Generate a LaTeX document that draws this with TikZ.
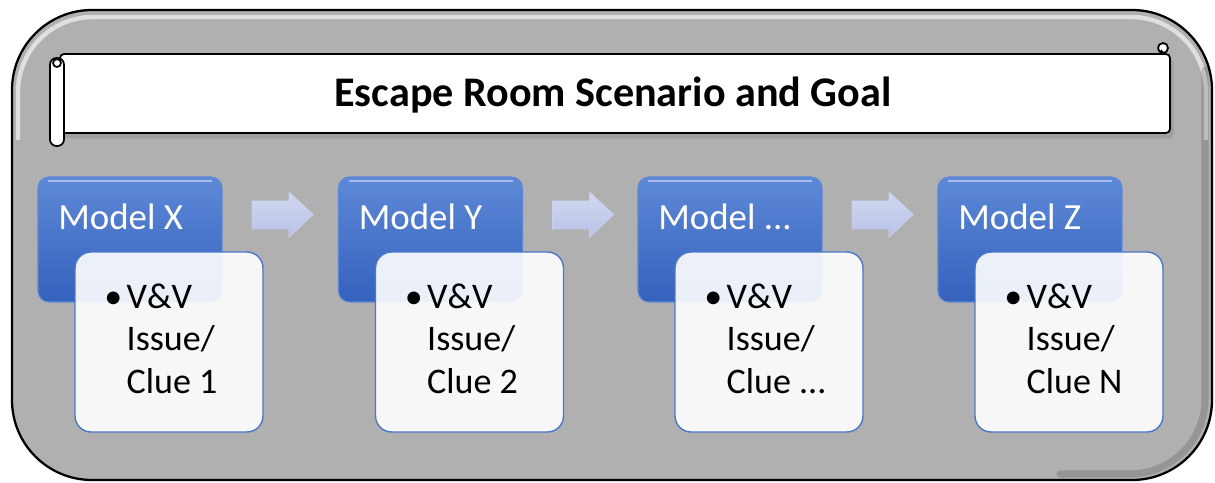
\documentclass[tikz,border=0pt]{standalone}
\usepackage{fontspec}
\setmainfont{Carlito}
\usetikzlibrary{shadows}
\definecolor{outergray}{HTML}{B0B0B0}
\definecolor{bluetop}{HTML}{5E89D8}
\definecolor{bluebot}{HTML}{3461BC}
\definecolor{blueedge}{HTML}{5B86D6}
\definecolor{clueedge}{HTML}{4A78C8}
\definecolor{arrtop}{HTML}{D3D9F1}
\definecolor{arrbot}{HTML}{B7C1E6}
\definecolor{arredge}{HTML}{C9D0EE}
\tikzset{
  bluebox/.style={draw=blueedge, line width=0.6pt, top color=bluetop, bottom color=bluebot,
    rounded corners=0.22cm, minimum width=3.68cm, minimum height=2.5cm, inner sep=0pt},
  cluebox/.style={draw=clueedge, line width=0.8pt, fill=white, fill opacity=0.9,
    rounded corners=0.32cm, minimum width=3.76cm, minimum height=3.6cm, inner sep=0pt},
  modeltxt/.style={text=white, font=\fontsize{21}{25}\selectfont, anchor=base west, inner sep=0pt},
  cluetxt/.style={text=black, font=\fontsize{20.5}{24}\selectfont, anchor=base west, inner sep=0pt, align=left},
  blockarrow/.style={draw=arredge, line width=0.5pt, top color=arrtop, bottom color=arrbot},
}
\newcommand{\bul}{\makebox[0.62em][l]{\textbullet}}
\newcommand{\ind}{\hspace*{0.62em}}
\newcommand{\tdots}{...}
\begin{document}
\begin{tikzpicture}[x=0.02cm,y=-0.02cm]
\useasboundingbox (0,0) rectangle (1215,483);
% outer frame
\draw[line width=1.3pt, fill=outergray, rounded corners=1.6cm] (12,10) rectangle (1212,480);
\draw[white, opacity=0.6, line width=2.5pt, rounded corners=1.5cm] (18,140) |- (1206,17) -- (1206,140);
\draw[black, opacity=0.15, line width=4pt, line cap=round, rounded corners=1.5cm] (1205,70) |- (1060,474);
% banner
\draw[fill=white, line width=1pt, rounded corners=0.08cm,
  drop shadow={opacity=0.35, shadow xshift=2pt, shadow yshift=-3pt}]
  (60,54) -- (1170,54) -- (1170,133) -- (60,133) -- cycle;
\draw[fill=white, line width=1pt, rounded corners=0.13cm] (50,58) rectangle (64,146);
\draw[line width=1pt, fill=white] (57,63) circle (4);
\draw[line width=1pt, fill=white] (1163,48) circle (5);
\draw[line width=1pt] (1161,50) -- (1163,53);
\node[font=\bfseries\fontsize{24}{28}\selectfont, anchor=base] (title) at (613,107) {Escape Room Scenario and Goal};
% columns
\foreach \i/\nm/\cl [count=\k] in {0/X/1, 300.5/Y/2, 600/\tdots/\tdots, 900/Z/N}{
  \node[bluebox] (m\k) at (130+\i,239.5) {};
  \draw[white, opacity=0.45, line width=1.5pt] (48+\i,181) -- (212+\i,181);
  \node[modeltxt] (ml\k) at (58+\i,230) {Model \nm};
  \node[cluebox] (c\k) at (169+\i,342) {};
  \node[cluetxt] (cl\k) at (104+\i,393) {\bul V\&V\\ \ind Issue/\\ \ind Clue \cl};
}
% block arrows
\foreach \i [count=\k] in {0, 300.5, 600}{
  \path[blockarrow] (252+\i,201) -- (289+\i,201) -- (289+\i,192) -- (313+\i,214.5)
     -- (289+\i,237) -- (289+\i,229) -- (252+\i,229) -- cycle;
  \coordinate (a\k) at (282+\i,215);
}
\end{tikzpicture}
\end{document}
